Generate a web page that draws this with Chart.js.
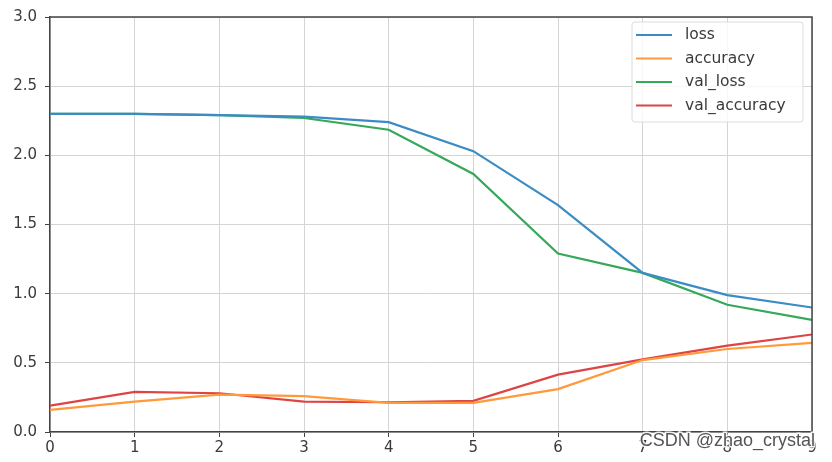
<!DOCTYPE html>
<html>
<head>
<meta charset="utf-8">
<script src="https://cdn.jsdelivr.net/npm/chart.js@4.4.0/dist/chart.umd.min.js"></script>
<style>
  html, body { margin: 0; padding: 0; background: #fff; }
  #wrap { width: 832px; height: 462px; position: relative; }
</style>
</head>
<body>
<div id="wrap"><canvas id="history"></canvas></div>
<script>
// training history
const epochs = [0, 1, 2, 3, 4, 5, 6, 7, 8, 9];
const loss = [2.30, 2.30, 2.29, 2.28, 2.24, 2.03, 1.64, 1.15, 0.99, 0.90];
const accuracy = [0.16, 0.22, 0.27, 0.26, 0.21, 0.21, 0.31, 0.52, 0.60, 0.645];
const valLoss = [2.30, 2.30, 2.29, 2.27, 2.185, 1.865, 1.29, 1.15, 0.92, 0.81];
const valAccuracy = [0.19, 0.29, 0.28, 0.22, 0.215, 0.225, 0.415, 0.525, 0.625, 0.705];

const seriesNames = ['loss', 'accuracy', 'val_loss', 'val_accuracy'];
const seriesColors = ['#3b8cc4', '#ff993a', '#35a85a', '#de4444'];
const watermark = 'CSDN @zhao_crystal';

const FONT = '"DejaVu Sans", sans-serif';

function toPoints(values) {
    return values.map((v, i) => ({ x: epochs[i], y: v }));
}

const allValues = [loss, accuracy, valLoss, valAccuracy];

// legend box in the upper right + frame + watermark
const extrasPlugin = {
    id: 'extras',
    afterDatasetsDraw(chart) {
        const ctx = chart.ctx;
        const a = chart.chartArea;
        ctx.save();

        // top and right spines
        ctx.strokeStyle = '#444';
        ctx.lineWidth = 1.5;
        ctx.beginPath();
        ctx.moveTo(a.left, a.top);
        ctx.lineTo(a.right, a.top);
        ctx.lineTo(a.right, a.bottom);
        ctx.stroke();

        // legend
        const bx = 632, by = 22, bw = 171, bh = 100;
        ctx.fillStyle = 'rgba(255,255,255,0.8)';
        ctx.strokeStyle = '#dcdcdc';
        ctx.lineWidth = 1;
        ctx.beginPath();
        ctx.roundRect(bx, by, bw, bh, 3);
        ctx.fill();
        ctx.stroke();

        ctx.font = '15.5px ' + FONT;
        ctx.textBaseline = 'middle';
        ctx.textAlign = 'left';
        seriesNames.forEach((name, i) => {
            const y = 35 + i * 23.5;
            ctx.strokeStyle = seriesColors[i];
            ctx.lineWidth = 2.2;
            ctx.beginPath();
            ctx.moveTo(636, y);
            ctx.lineTo(672, y);
            ctx.stroke();
            ctx.fillStyle = '#3a3a3a';
            ctx.fillText(name, 685, y);
        });

        ctx.restore();
    },
    afterDraw(chart) {
        const ctx = chart.ctx;
        ctx.save();
        ctx.font = '18px "Liberation Sans", Arial, sans-serif';
        ctx.textBaseline = 'middle';
        ctx.textAlign = 'right';
        ctx.lineWidth = 3;
        ctx.strokeStyle = 'rgba(255,255,255,0.85)';
        ctx.strokeText(watermark, 815, 441);
        ctx.fillStyle = '#555';
        ctx.fillText(watermark, 815, 441);
        ctx.restore();
    }
};

new Chart(document.getElementById('history'), {
    type: 'line',
    data: {
        datasets: seriesNames.map((name, i) => ({
            label: name,
            data: toPoints(allValues[i]),
            borderColor: seriesColors[i],
            backgroundColor: seriesColors[i],
            borderWidth: 2.2,
            pointRadius: 0,
            tension: 0,
            fill: false
        }))
    },
    options: {
        responsive: true,
        maintainAspectRatio: false,
        animation: false,
        layout: {
            padding: { top: 14, right: 20, left: 0, bottom: 0 }
        },
        plugins: {
            legend: { display: false },
            tooltip: { enabled: false }
        },
        scales: {
            x: {
                type: 'linear',
                min: 0,
                max: 9,
                ticks: {
                    stepSize: 1,
                    color: '#3a3a3a',
                    padding: 2,
                    font: { family: FONT, size: 15 }
                },
                grid: {
                    color: '#d4d4d4',
                    lineWidth: 1,
                    tickLength: 5,
                    tickColor: '#444'
                },
                border: { display: true, color: '#444', width: 1.5 },
                afterFit(scale) { scale.height = 30; }
            },
            y: {
                min: 0,
                max: 3,
                ticks: {
                    stepSize: 0.5,
                    color: '#3a3a3a',
                    padding: 8,
                    font: { family: FONT, size: 15 },
                    callback: v => v.toFixed(1)
                },
                grid: {
                    color: '#d4d4d4',
                    lineWidth: 1,
                    tickLength: 5,
                    tickColor: '#444'
                },
                border: { display: true, color: '#444', width: 1.5 },
                afterFit(scale) { scale.width = 50; }
            }
        }
    },
    plugins: [extrasPlugin]
});
</script>
</body>
</html>
